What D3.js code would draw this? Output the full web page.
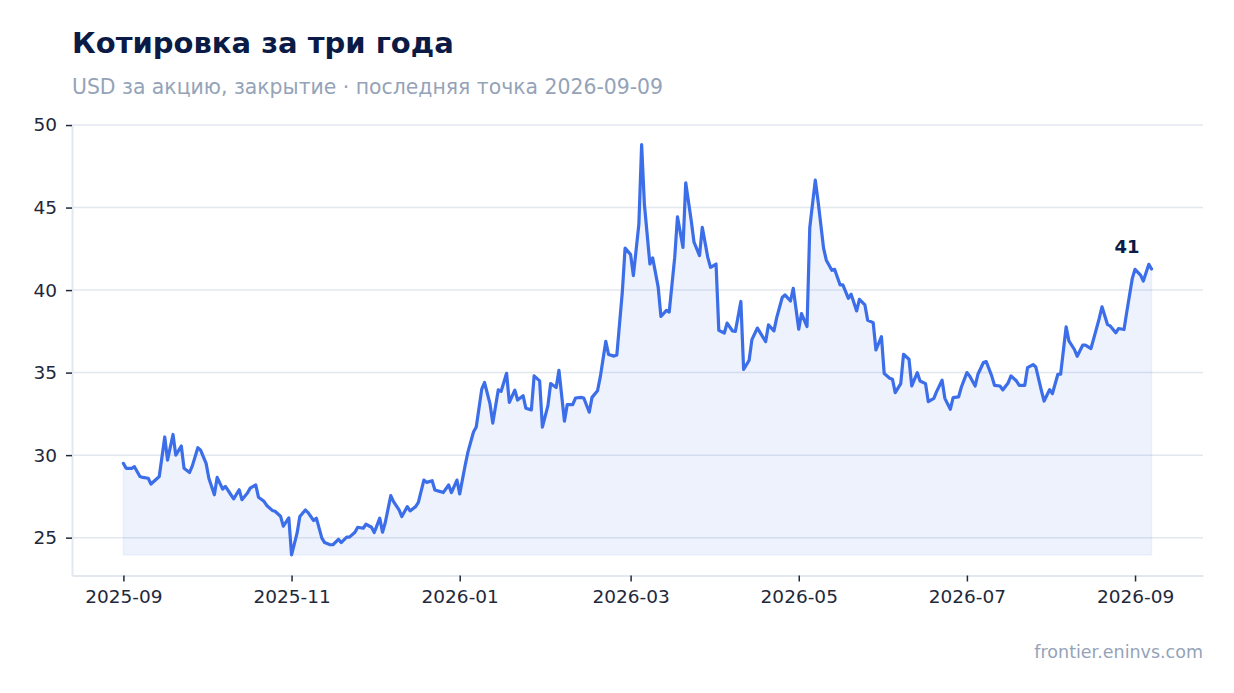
<!DOCTYPE html>
<html>
<head>
<meta charset="utf-8">
<script src="https://cdn.jsdelivr.net/npm/d3@7"></script>
<style>
  body { margin: 0; background: #ffffff; }
  svg { display: block; font-family: "DejaVu Sans", sans-serif; }
</style>
</head>
<body>
<svg id="chart" width="1234" height="693"></svg>
<script>
// ---- data ----
const titleText = "Котировка за три года";
const subtitleText = "USD за акцию, закрытие · последняя точка 2026-09-09";
const sourceText = "frontier.eninvs.com";
const startDate = "2025-09-01";
const endDate = "2026-09-09";
const tickEvery = 41; // a tick label every 41st quote
const prices = [
  29.5, 29.2, 29.2, 29.3, 28.7, 28.65, 28.6, 28.25, 28.55, 28.7,
  31.1, 29.7, 31.25, 30.0, 30.55, 29.2, 28.95, 29.35, 30.45, 30.3,
  29.5, 28.6, 27.6, 28.65, 27.95, 28.1, 27.6, 27.35, 27.9, 27.3,
  27.7, 28.0, 28.2, 27.45, 27.2, 26.95, 26.65, 26.6, 26.3, 25.7,
  26.2, 23.95,
  25.27, 26.28, 26.68, 26.52, 26.04, 26.18, 24.97, 24.7, 24.57, 24.57,
  24.9, 24.7, 25.03, 25.03, 25.33, 25.63, 25.57, 25.81, 25.63, 25.31,
  26.18, 25.33, 25.92, 27.55, 27.18, 26.68, 26.28, 26.88, 26.62, 26.88,
  27.14, 28.49, 28.35, 28.45, 27.89, 27.79, 27.73, 28.19, 27.73, 28.49,
  27.65, 29.4,
  30.2, 31.4, 31.7, 34.0, 34.4, 33.1, 31.94, 33.96, 33.86, 34.96,
  33.2, 33.94, 33.34, 33.6, 32.84, 32.74, 34.8, 34.5, 31.7, 33.0,
  34.34, 34.1, 35.14, 32.06, 33.06, 33.06, 33.46, 33.5, 33.46, 32.6,
  33.5, 33.9, 34.74, 36.9, 36.1, 36.0, 36.06,
  39.9, 42.55, 42.15, 40.88, 44.0, 48.82, 45.2, 41.58, 41.95, 40.18,
  38.4, 38.77, 38.67, 41.98, 44.44, 42.59, 46.5, 44.2, 42.9, 42.09,
  43.8, 41.98, 41.38, 41.58, 37.56, 37.4, 38.0, 37.52, 37.5, 39.31,
  35.19, 35.75, 37.0, 37.7, 37.42, 36.88, 37.89, 37.53, 38.33, 39.55,
  39.71, 39.34, 40.11, 37.63, 38.58, 37.79, 43.79, 46.66, 45.4, 42.54,
  41.81, 41.2, 41.26, 40.31, 40.31, 39.5, 39.75, 38.74, 39.44, 39.1,
  38.17, 38.03, 36.37, 37.18, 34.94, 34.66,
  34.6, 33.79, 34.33, 36.11, 35.81, 34.19, 35.0, 34.49, 34.33, 33.24,
  33.44, 33.85, 34.54, 33.44, 32.78, 33.48, 33.53, 34.13, 35.0, 34.8,
  34.19, 34.9, 35.61, 35.67, 34.8, 34.23, 34.19, 33.95, 34.39, 34.8,
  34.49, 34.23, 34.23, 35.3, 35.49, 35.34, 33.93, 33.28, 33.97, 33.72,
  34.9, 34.9, 37.77, 36.92, 36.4, 35.99, 36.66, 36.66, 36.46, 37.06,
  38.28, 38.99, 37.91, 37.83, 37.41, 37.67, 37.61, 38.68, 40.71, 41.26,
  40.91, 40.55, 41.56, 41.28
];

// ---- build ----
const parse = d3.utcParse("%Y-%m-%d");
const t0 = parse(startDate), t1 = parse(endDate);
const totalDays = d3.utcDay.count(t0, t1);
const n = prices.length;
const data = prices.map((v, i) => ({
  date: d3.utcDay.offset(t0, Math.round(i * totalDays / (n - 1))),
  v
}));
const tickDates = data.filter((d, i) => i % tickEvery === 0).map(d => d.date);

const svg = d3.select("#chart");
const plotL = 72, plotR = 1203, plotT = 124, plotB = 575.5;

const span = t1 - t0;
const x = d3.scaleUtc()
  .domain([new Date(+t0 - span * 0.05), new Date(+t1 + span * 0.05)])
  .range([plotL, plotR]);

const ext = d3.extent(prices);
const ypad = (ext[1] - ext[0]) * 0.05;
const y = d3.scaleLinear()
  .domain([ext[0] - ypad, ext[1] + ypad])
  .range([plotB, plotT]);

const navy = "#0b1b46";
const blue = "#3b6ee8";
const grey = "#94a3b8";
const gridCol = "#e3e8f0";
const tickCol = "#1e293b";

// grid
svg.append("g").selectAll("line")
  .data(y.ticks(6))
  .join("line")
  .attr("x1", plotL).attr("x2", plotR)
  .attr("y1", d => y(d)).attr("y2", d => y(d))
  .attr("stroke", gridCol).attr("stroke-width", 1.5);

// area
const area = d3.area()
  .x(d => x(d.date))
  .y0(y(ext[0]))
  .y1(d => y(d.v));
svg.append("path")
  .datum(data)
  .attr("d", area)
  .attr("fill", blue).attr("fill-opacity", 0.09)
  .attr("stroke", blue).attr("stroke-opacity", 0.06).attr("stroke-width", 1.5);

// line
const line = d3.line().x(d => x(d.date)).y(d => y(d.v));
svg.append("path")
  .datum(data)
  .attr("d", line)
  .attr("fill", "none")
  .attr("stroke", blue)
  .attr("stroke-width", 3.2)
  .attr("stroke-linejoin", "round")
  .attr("stroke-linecap", "round");

// axes
const xAxis = svg.append("g")
  .attr("transform", `translate(0,${plotB})`)
  .call(d3.axisBottom(x).tickValues(tickDates).tickFormat(d3.utcFormat("%Y-%m"))
    .tickSize(6).tickSizeOuter(0).tickPadding(8));
const yAxis = svg.append("g")
  .attr("transform", `translate(${plotL},0)`)
  .call(d3.axisLeft(y).ticks(6).tickSize(6).tickSizeOuter(0).tickPadding(9));

[xAxis, yAxis].forEach(g => {
  g.select(".domain").attr("stroke", gridCol).attr("stroke-width", 2);
  g.selectAll(".tick line").attr("stroke", tickCol).attr("stroke-width", 1.5);
  g.selectAll(".tick text").attr("fill", tickCol)
    .attr("font-family", "DejaVu Sans, sans-serif");
});
xAxis.selectAll(".tick text").attr("font-size", 18.5);
yAxis.selectAll(".tick text").attr("font-size", 18.5);

// last value label
const last = data[n - 1];
svg.append("text")
  .attr("x", x(last.date) - 12)
  .attr("y", y(last.v) - 15.5)
  .attr("text-anchor", "end")
  .attr("font-size", 18).attr("font-weight", "bold")
  .attr("fill", navy)
  .text(d3.format(".0f")(last.v));

// titles
svg.append("text")
  .attr("x", 72).attr("y", 53)
  .attr("font-size", 29).attr("font-weight", "bold")
  .attr("fill", navy)
  .text(titleText);
svg.append("text")
  .attr("x", 72).attr("y", 93.5)
  .attr("font-size", 20.4)
  .attr("fill", grey)
  .text(subtitleText);
svg.append("text")
  .attr("x", 1203).attr("y", 658)
  .attr("text-anchor", "end")
  .attr("font-size", 17.5)
  .attr("fill", grey)
  .text(sourceText);
</script>
</body>
</html>
